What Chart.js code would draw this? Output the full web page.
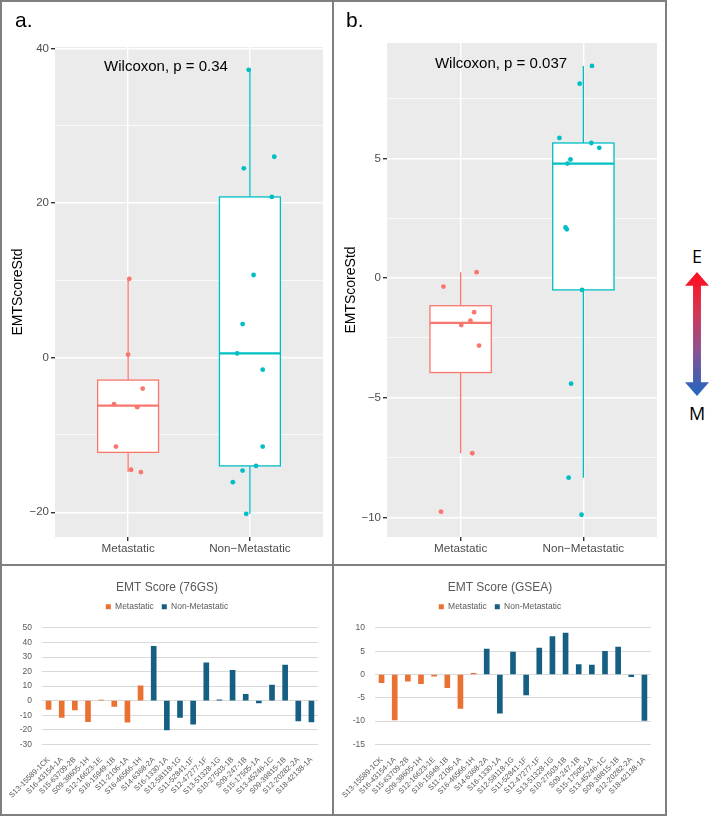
<!DOCTYPE html>
<html>
<head>
<meta charset="utf-8">
<script src="https://cdn.jsdelivr.net/npm/chart.js@4.4.0/dist/chart.umd.min.js"></script>
<style>
  body { margin: 0; width: 709px; height: 816px; overflow: hidden; background: #fff; font-family: "Liberation Sans", Arial, sans-serif; }
  .box { position: absolute; }
  .line { position: absolute; background: #7f7f7f; z-index: 5; }
  .txt { position: absolute; white-space: nowrap; color: #000; }
  #arrow {
    position: absolute; left: 685px; top: 272px; width: 24px; height: 124px;
    background: linear-gradient(to bottom, #ff0d1f 0%, #d9334f 30%, #8e5190 62%, #1f66c1 100%);
    clip-path: polygon(50% 0, 100% 11%, 66.5% 11%, 66.5% 89%, 100% 89%, 50% 100%, 0 89%, 33.5% 89%, 33.5% 11%, 0 11%);
  }
</style>
</head>
<body>

<div class="box" style="left:0;top:0;width:333px;height:565px"><canvas id="boxA"></canvas></div>
<div class="box" style="left:333px;top:0;width:333px;height:565px"><canvas id="boxB"></canvas></div>
<div class="box" style="left:0;top:565px;width:333px;height:251px"><canvas id="bar76"></canvas></div>
<div class="box" style="left:333px;top:565px;width:333px;height:251px"><canvas id="barGsea"></canvas></div>

<div class="txt" style="left:15px;top:8px;font-size:21px">a.</div>
<div class="txt" style="left:346px;top:8px;font-size:21px">b.</div>
<div class="txt" style="left:166px;top:65px;font-size:15px;transform:translate(-50%,-50%)">Wilcoxon, p = 0.34</div>
<div class="txt" style="left:501px;top:62px;font-size:15px;transform:translate(-50%,-50%)">Wilcoxon, p = 0.037</div>

<div id="arrow"></div>
<div class="txt" style="left:697px;top:256px;font-size:18px;font-family:'Open Sans',sans-serif;transform:translate(-50%,-50%)">E</div>
<div class="txt" style="left:697px;top:413px;font-size:18px;font-family:'Open Sans',sans-serif;transform:translate(-50%,-50%)">M</div>

<!-- panel frame -->
<div class="line" style="left:0;top:0;width:667px;height:2px"></div>
<div class="line" style="left:0;top:814px;width:667px;height:2px"></div>
<div class="line" style="left:0;top:0;width:2px;height:816px"></div>
<div class="line" style="left:665px;top:0;width:2px;height:816px"></div>
<div class="line" style="left:332px;top:0;width:2px;height:816px"></div>
<div class="line" style="left:0;top:564px;width:667px;height:2px"></div>

<script>
'use strict'

// *********DATA***********

const samples = ['S13-15589-1CK', 'S16-43154-1A', 'S15-63709-2B', 'S09-38605-1H', 'S12-16623-1E',
  'S16-15949-1B', 'S11-2106-1A', 'S16-46566-1H', 'S14-6368-2A', 'S16-1330-1A', 'S12-58118-1G',
  'S11-52841-1F', 'S12-47277-1F', 'S13-51328-1G', 'S10-27503-1B', 'S09-247-1B', 'S15-17505-1A',
  'S13-45246-1C', 'S09-39815-1B', 'S12-20282-2A', 'S18-42138-1A'];

const sampleStatus = ['Metastatic', 'Metastatic', 'Metastatic', 'Metastatic', 'Metastatic',
  'Metastatic', 'Metastatic', 'Metastatic', 'Non-Metastatic', 'Non-Metastatic', 'Non-Metastatic',
  'Non-Metastatic', 'Non-Metastatic', 'Non-Metastatic', 'Non-Metastatic', 'Non-Metastatic',
  'Non-Metastatic', 'Non-Metastatic', 'Non-Metastatic', 'Non-Metastatic', 'Non-Metastatic'];

// EMT score, 76 gene signature
const score76GS = [-6.0, -11.5, -6.4, -14.5, 0.4, -4.0, -14.8, 10.2, 37.25, -20.2, -11.5,
  -16.1, 26.0, 0.55, 20.8, 4.35, -1.55, 10.7, 24.5, -14.0, -14.6];

// EMT score, GSEA
const scoreGSEA = [-1.78, -9.76, -1.42, -1.96, -0.35, -2.82, -7.32, 0.25, 5.45, -8.34, 4.79,
  -4.41, 5.65, 8.13, 8.87, 2.12, 2.04, 4.96, 5.86, -0.49, -9.89];

// horizontal jitter of each sample's dot in the box plots (category units)
const jitter76GS = [-0.115, -0.10, 0.075, 0.025, 0.0, 0.12, 0.105, 0.01, -0.01, -0.03, 0.105,
  -0.14, 0.20, -0.105, 0.18, -0.06, 0.105, 0.03, -0.05, 0.05, -0.06];
const jitterGSEA = [0.08, -0.16, 0.11, 0.005, -0.14, 0.15, 0.095, 0.13, 0.13, -0.12, -0.13,
  -0.10, 0.065, -0.03, 0.07, -0.145, -0.135, -0.105, -0.195, -0.01, -0.015];

const statusNames = ['Metastatic', 'Non-Metastatic'];
const boxLabels = ['Metastatic', 'Non\u2212Metastatic'];

// tick values
const ticks76Major = [-20, 0, 20, 40];
const ticks76Minor = [-10, 10, 30];
const ticksGseaMajor = [-10, -5, 0, 5];
const ticksGseaMinor = [-7.5, -2.5, 2.5, 7.5];

const ggColors = ['#F8766D', '#00BFC4'];
const xlColors = ['#E97132', '#156082'];

Chart.defaults.animation = false;
Chart.defaults.font.family = '"Liberation Sans", Arial, sans-serif';

// ********HELPER FUNCTIONS*********

function quantile(sorted, p) {
  let pos = (sorted.length - 1) * p;
  let lo = Math.floor(pos);
  let hi = Math.ceil(pos);
  return sorted[lo] + (sorted[hi] - sorted[lo]) * (pos - lo);
}

// ggplot style box stats (type 7 quantiles, 1.5 IQR whiskers)
function boxStats(values) {
  let s = values.slice().sort((a, b) => a - b);
  let q1 = quantile(s, 0.25);
  let med = quantile(s, 0.5);
  let q3 = quantile(s, 0.75);
  let iqr = q3 - q1;
  let low = Math.min(...s.filter(v => v >= q1 - 1.5 * iqr));
  let high = Math.max(...s.filter(v => v <= q3 + 1.5 * iqr));
  return { q1, med, q3, low, high };
}

function groupValues(scores, name) {
  return scores.filter((v, i) => sampleStatus[i] === name);
}

const panelBg = {
  id: 'panelBg',
  beforeDraw(chart) {
    let a = chart.chartArea;
    chart.ctx.save();
    chart.ctx.fillStyle = '#EBEBEB';
    chart.ctx.fillRect(a.left, a.top, a.right - a.left, a.bottom - a.top);
    chart.ctx.restore();
  }
};

function makeBoxPlugin(scores) {
  return {
    id: 'boxes',
    beforeDatasetsDraw(chart) {
      let ctx = chart.ctx;
      let x = chart.scales.x;
      let y = chart.scales.y;
      statusNames.forEach((name, i) => {
        let st = boxStats(groupValues(scores, name));
        let xc = x.getPixelForValue(i + 1);
        let x0 = x.getPixelForValue(i + 1 - 0.25);
        let x1 = x.getPixelForValue(i + 1 + 0.25);
        let top = y.getPixelForValue(st.q3);
        let bot = y.getPixelForValue(st.q1);
        ctx.save();
        ctx.strokeStyle = ggColors[i];
        ctx.lineWidth = 1.3;
        ctx.beginPath();
        ctx.moveTo(xc, y.getPixelForValue(st.high));
        ctx.lineTo(xc, top);
        ctx.moveTo(xc, bot);
        ctx.lineTo(xc, y.getPixelForValue(st.low));
        ctx.stroke();
        ctx.fillStyle = '#fff';
        ctx.fillRect(x0, top, x1 - x0, bot - top);
        ctx.strokeRect(x0, top, x1 - x0, bot - top);
        let ym = y.getPixelForValue(st.med);
        ctx.lineWidth = 2.2;
        ctx.beginPath();
        ctx.moveTo(x0, ym);
        ctx.lineTo(x1, ym);
        ctx.stroke();
        ctx.restore();
      });
    }
  };
}

// minus sign like ggplot
function ggNum(v) {
  return v < 0 ? '\u2212' + Math.abs(v) : String(v);
}

// ************BOX PLOT PANELS****************

function renderBoxChart(id, scores, jitter, yMin, yMax, major, minor, pad, yWidth) {
  let datasets = statusNames.map((name, g) => ({
    label: name,
    data: scores.map((v, i) => ({ x: g + 1 + jitter[i], y: v, s: sampleStatus[i] }))
      .filter(p => p.s === name),
    backgroundColor: ggColors[g],
    borderWidth: 0,
    pointRadius: 2.4
  }));
  let allTicks = major.concat(minor).sort((a, b) => a - b);

  new Chart(document.getElementById(id), {
    type: 'scatter',
    data: { datasets: datasets },
    options: {
      responsive: true,
      maintainAspectRatio: false,
      layout: { padding: pad },
      plugins: { legend: { display: false }, tooltip: { enabled: false } },
      scales: {
        x: {
          type: 'linear', min: 0.4, max: 2.6,
          afterBuildTicks: s => { s.ticks = [{ value: 1 }, { value: 2 }]; },
          afterFit: s => { s.height = 28; },
          border: { display: false },
          grid: { color: '#fff', lineWidth: 1.4, tickColor: '#333', tickLength: 4 },
          ticks: { callback: v => boxLabels[v - 1], color: '#4D4D4D', font: { size: 11.7 }, padding: 1, maxRotation: 0, autoSkip: false }
        },
        y: {
          min: yMin, max: yMax,
          afterBuildTicks: s => { s.ticks = allTicks.map(v => ({ value: v })); },
          afterFit: s => { s.width = yWidth; },
          border: { display: false },
          grid: {
            color: '#fff',
            lineWidth: c => major.includes(c.tick.value) ? 1.4 : 0.7,
            tickColor: c => major.includes(c.tick.value) ? '#333' : 'rgba(0,0,0,0)',
            tickLength: 4
          },
          ticks: {
            callback: v => major.includes(v) ? ggNum(v) : '',
            color: '#4D4D4D', font: { size: 11.5 }, padding: 2, autoSkip: false
          },
          title: { display: true, text: 'EMTScoreStd', color: '#000', font: { size: 14 }, padding: { top: 10, bottom: 0 } }
        }
      }
    },
    plugins: [panelBg, makeBoxPlugin(scores)]
  });
}

// ************BAR PANELS****************

const legendGap = {
  id: 'legendGap',
  beforeInit(chart) {
    let fit = chart.legend.fit;
    chart.legend.fit = function () {
      fit.call(this);
      this.height += 7;
    };
  }
};

function renderBarChart(id, title, scores, yMin, yMax, step) {
  let datasets = statusNames.map((name, g) => ({
    label: name,
    data: scores.map((v, i) => sampleStatus[i] === name ? v : null),
    backgroundColor: xlColors[g],
    barThickness: 5
  }));

  new Chart(document.getElementById(id), {
    type: 'bar',
    data: { labels: samples, datasets: datasets },
    options: {
      responsive: true,
      maintainAspectRatio: false,
      layout: { padding: { top: 0, right: 15, bottom: 0, left: 16 } },
      plugins: {
        tooltip: { enabled: false },
        title: { display: true, text: title, color: '#595959', font: { size: 12, weight: 'normal' }, padding: { top: 15, bottom: 0 } },
        legend: { position: 'top', labels: { boxWidth: 5, boxHeight: 5, color: '#595959', font: { size: 8.5 }, padding: 8 } }
      },
      scales: {
        x: {
          stacked: true,
          afterFit: s => { s.height = 71.7; },
          grid: { display: false },
          border: { display: false },
          ticks: { color: '#595959', font: { size: 7.5 }, minRotation: 45, maxRotation: 45, autoSkip: false, padding: 3 }
        },
        y: {
          min: yMin, max: yMax,
          afterFit: s => { s.width = 26; },
          grid: { color: '#D9D9D9', drawTicks: false },
          border: { display: false },
          ticks: { stepSize: step, color: '#595959', font: { size: 8.5 }, padding: 10 }
        }
      }
    },
    plugins: [legendGap]
  });
}

//********EXECUTABLE CODE*********

renderBoxChart('boxA', score76GS, jitter76GS, -23.2, 40.2, ticks76Major, ticks76Minor, { top: 47, right: 10, bottom: 0, left: 0 }, 55);
renderBoxChart('boxB', scoreGSEA, jitterGSEA, -10.82, 9.83, ticksGseaMajor, ticksGseaMinor, { top: 43, right: 9, bottom: 0, left: 0 }, 54);
renderBarChart('bar76', 'EMT Score (76GS)', score76GS, -30, 50, 10);
renderBarChart('barGsea', 'EMT Score (GSEA)', scoreGSEA, -15, 10, 5);
</script>
</body>
</html>
